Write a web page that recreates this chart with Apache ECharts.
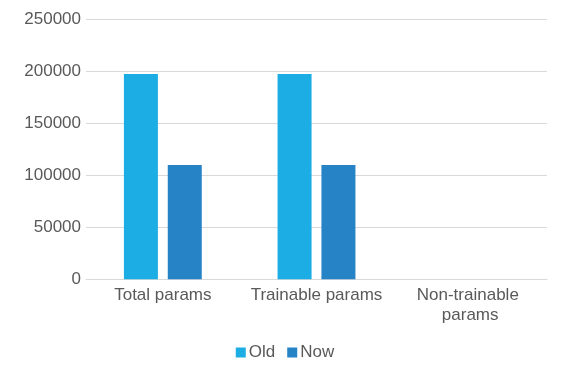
<!DOCTYPE html>
<html>
<head>
<meta charset="utf-8">
<script src="https://cdn.jsdelivr.net/npm/echarts@6/dist/echarts.min.js"></script>
<style>html,body{margin:0;padding:0;background:#fff}#c{width:570px;height:366px}</style>
</head>
<body>
<div id="c"></div>
<script>
const categories = ['Total params', 'Trainable params', 'Non-trainable params'];
const oldValues = [197400, 197400, 0];
const nowValues = [110000, 110000, 0];
const seriesNames = ['Old', 'Now'];

const chart = echarts.init(document.getElementById('c'));
const font = 'Liberation Sans, Arial, sans-serif';
chart.setOption({
  animation: false,
  textStyle: { fontFamily: font },
  grid: { left: 86, right: 23, top: 19.3, bottom: 86.7, containLabel: false },
  legend: {
    bottom: 0, left: 'center',
    itemWidth: 10, itemHeight: 10, itemGap: 12,
    icon: 'rect',
    textStyle: { fontSize: 17, color: '#595959', fontFamily: font, padding: [0, 0, 0, -2] },
    data: seriesNames
  },
  xAxis: {
    type: 'category', data: categories,
    axisLine: { lineStyle: { color: '#D9D9D9' } },
    axisTick: { show: false },
    axisLabel: { interval: 0, fontSize: 17, color: '#595959', margin: 6, width: 150, overflow: 'break', lineHeight: 20, fontFamily: font }
  },
  yAxis: {
    type: 'value', min: 0, max: 250000, interval: 50000,
    axisLine: { show: false }, axisTick: { show: false },
    splitLine: { lineStyle: { color: '#D9D9D9' } },
    axisLabel: { fontSize: 17, color: '#595959', margin: 5, fontFamily: font, formatter: v => String(v) }
  },
  series: [
    { name: seriesNames[0], type: 'bar', data: oldValues, barWidth: 34, barGap: '29%', itemStyle: { color: '#1CADE4' } },
    { name: seriesNames[1], type: 'bar', data: nowValues, barWidth: 34, itemStyle: { color: '#2683C6' } }
  ]
});
</script>
</body>
</html>
